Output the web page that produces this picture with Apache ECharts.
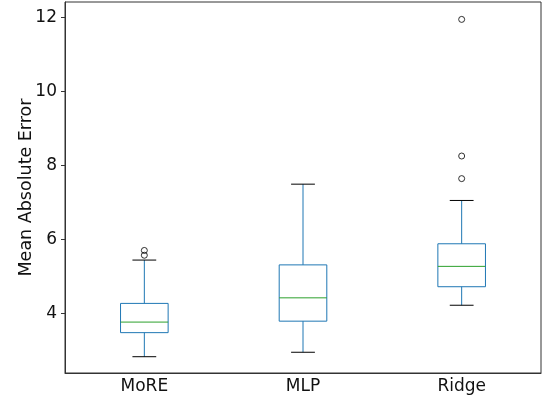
<!DOCTYPE html>
<html>
<head>
<meta charset="utf-8">
<script src="https://cdn.jsdelivr.net/npm/echarts@6/dist/echarts.min.js"></script>
<style>html,body{margin:0;padding:0;background:#fff}#c{width:546px;height:401px}</style>
</head>
<body>
<div id="c"></div>
<script>
const categories = ['MoRE', 'MLP', 'Ridge'];
// [lowerWhisker, Q1, median, Q3, upperWhisker]
const moreStats = [2.83, 3.48, 3.765, 4.27, 5.44];
const mlpStats = [2.95, 3.79, 4.42, 5.31, 7.49];
const ridgeStats = [4.22, 4.72, 5.27, 5.88, 7.05];
const moreOutliers = [5.57, 5.70];
const mlpOutliers = [];
const ridgeOutliers = [7.64, 8.25, 11.94];
const yTicks = [4, 6, 8, 10, 12];

const allStats = [moreStats, mlpStats, ridgeStats];
const allOutliers = [moreOutliers, mlpOutliers, ridgeOutliers];
const boxData = allStats.map((s, i) => [i].concat(s));
const outlierData = [];
allOutliers.forEach((arr, i) => arr.forEach(v => outlierData.push([i, v])));

const BLUE = '#1f77b4', GREEN = '#2ca02c', BLACK = '#000';
const AXIS = '#333';

function renderBox(params, api) {
  const i = api.value(0);
  const band = api.size([1, 0])[0];
  const hb = band * 0.15, hc = band * 0.075;
  const pLo = api.coord([i, api.value(1)]);
  const pQ1 = api.coord([i, api.value(2)]);
  const pMed = api.coord([i, api.value(3)]);
  const pQ3 = api.coord([i, api.value(4)]);
  const pHi = api.coord([i, api.value(5)]);
  const x = pQ1[0];
  const line = (x1, y1, x2, y2, c) => ({type: 'line', shape: {x1, y1, x2, y2}, style: {stroke: c, lineWidth: 1}});
  return {
    type: 'group',
    children: [
      line(x, pQ1[1], x, pLo[1], BLUE),
      line(x, pQ3[1], x, pHi[1], BLUE),
      {type: 'rect', shape: {x: x - hb, y: pQ3[1], width: 2 * hb, height: pQ1[1] - pQ3[1]},
       style: {fill: 'none', stroke: BLUE, lineWidth: 1}},
      line(x - hb, pMed[1], x + hb, pMed[1], GREEN),
      line(x - hc, pLo[1], x + hc, pLo[1], BLACK),
      line(x - hc, pHi[1], x + hc, pHi[1], BLACK)
    ]
  };
}

const chart = echarts.init(document.getElementById('c'));
chart.setOption({
  animation: false,
  backgroundColor: '#fff',
  grid: {left: 65, right: 5, top: 2, bottom: 28, show: true, borderColor: AXIS, borderWidth: 1, backgroundColor: 'transparent'},
  xAxis: {
    type: 'category', data: categories, boundaryGap: true,
    axisLine: {lineStyle: {color: AXIS, width: 1}},
    axisTick: {alignWithLabel: true, length: 4, lineStyle: {color: AXIS}},
    axisLabel: {fontSize: 17, color: '#111', margin: 5, fontFamily: 'DejaVu Sans'},
    splitLine: {show: false}
  },
  yAxis: {
    type: 'value', min: 2.39, max: 12.41,
    name: 'Mean Absolute Error', nameLocation: 'middle', nameGap: 30, nameRotate: 90,
    nameMoveOverlap: false,
    nameTextStyle: {fontSize: 17.5, color: '#111', fontFamily: 'DejaVu Sans'},
    axisLine: {show: true, lineStyle: {color: AXIS, width: 1}},
    axisTick: {show: true, length: 4, lineStyle: {color: AXIS}, customValues: yTicks},
    axisLabel: {fontSize: 17, color: '#111', margin: 8, fontFamily: 'DejaVu Sans', customValues: yTicks},
    splitLine: {show: false}
  },
  series: [
    {type: 'custom', renderItem: renderBox, data: boxData, encode: {x: 0, y: [1, 2, 3, 4, 5]}, z: 2},
    {type: 'scatter', data: outlierData, symbol: 'circle', symbolSize: 6,
     itemStyle: {color: 'rgba(0,0,0,0)', borderColor: BLACK, borderWidth: 1}, z: 3}
  ]
});
</script>
</body>
</html>
